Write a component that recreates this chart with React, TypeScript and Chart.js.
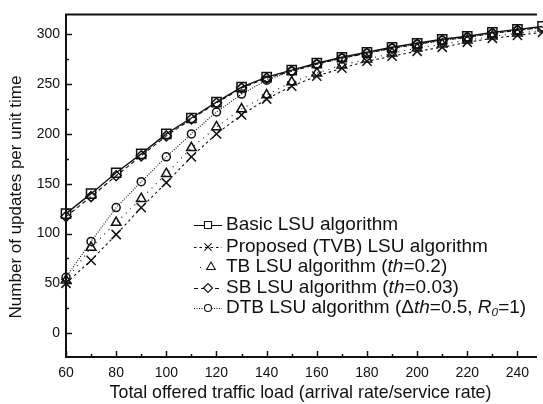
import React, { useEffect, useRef } from "react";
import { Chart, registerables } from "chart.js";
import { drawPoint } from "chart.js/helpers";

Chart.register(...registerables);

const loads = [60, 70, 80, 90, 100, 110, 120, 130, 140, 150, 160, 170, 180, 190, 200, 210, 220, 230, 240, 250];
const basicLSU = [120, 140, 161, 180, 200, 216, 232, 247, 257, 264, 271, 277, 282, 287, 291, 295, 298, 302, 305, 308];
const proposedTVB = [50, 73, 99, 126, 151, 177, 200, 219, 235, 248, 258, 266, 273, 278, 283, 287, 292, 296, 299, 302];
const tbLSU = [53, 86, 111, 135, 160, 186, 207, 225, 239, 252, 261, 269, 275, 281, 286, 290, 294, 298, 301, 304];
const sbLSU = [117, 137, 158, 178, 198, 215, 231, 246, 256, 263, 270, 276, 281, 286, 290, 294, 297, 301, 304, 307];
const dtbLSU = [56, 92, 126, 152, 177, 200, 222, 240, 254, 263, 270, 276, 281, 286, 290, 294, 297, 301, 304, 307];

const xMajorTicks = [60, 80, 100, 120, 140, 160, 180, 200, 220, 240];
const xMinorTicks = [70, 90, 110, 130, 150, 170, 190, 210, 230];
const yMajorTicks = [0, 50, 100, 150, 200, 250, 300];
const yMinorTicks = [25, 75, 125, 175, 225, 275];

const xTitle = "Total offered traffic load (arrival rate/service rate)";
const yTitle = "Number of updates per unit time";

type Run = { t: string; i?: boolean; sub?: boolean };
const legendBasic: Run[] = [{ t: "Basic LSU algorithm" }];
const legendTVB: Run[] = [{ t: "Proposed (TVB) LSU algorithm" }];
const legendTB: Run[] = [{ t: "TB LSU algorithm (" }, { t: "th", i: true }, { t: "=0.2)" }];
const legendSB: Run[] = [{ t: "SB LSU algorithm (" }, { t: "th", i: true }, { t: "=0.03)" }];
const legendDTB: Run[] = [
  { t: "DTB LSU algorithm (\u0394" },
  { t: "th", i: true },
  { t: "=0.5, " },
  { t: "R", i: true },
  { t: "0", i: true, sub: true },
  { t: "=1)" },
];

const INK = "#111";
const FONT = "'Liberation Sans', Arial, sans-serif";

const seriesStyles = [
  { label: "Basic", data: basicLSU, style: "rect", radius: 6.5, dash: [] as number[], legend: legendBasic, lr: 5 },
  { label: "TVB", data: proposedTVB, style: "crossRot", radius: 6.5, dash: [2.5, 3], legend: legendTVB, lr: 5 },
  { label: "TB", data: tbLSU, style: "triangle", radius: 5.5, dash: [1, 5], legend: legendTB, lr: 5 },
  { label: "SB", data: sbLSU, style: "rectRot", radius: 5, dash: [4, 3], legend: legendSB, lr: 4.5 },
  { label: "DTB", data: dtbLSU, style: "circle", radius: 4, dash: [1, 1.5], legend: legendDTB, lr: 3.5 },
];

const framePlugin = {
  id: "frame",
  afterDatasetsDraw(chart: any) {
    const { ctx, chartArea } = chart;
    const xs = chart.scales.x;
    const ys = chart.scales.y;
    const { left, right, top, bottom } = chartArea;
    ctx.save();
    ctx.strokeStyle = INK;
    ctx.lineWidth = 2;
    ctx.beginPath();
    ctx.moveTo(left, top);
    ctx.lineTo(right + 2, top);
    ctx.moveTo(left, top - 1);
    ctx.lineTo(left, bottom + 1);
    ctx.moveTo(left - 1, bottom);
    ctx.lineTo(right + 2, bottom);
    ctx.stroke();
    ctx.lineWidth = 1.5;
    ctx.beginPath();
    yMajorTicks.forEach((v) => {
      const p = Math.round(ys.getPixelForValue(v)) + 0.5;
      ctx.moveTo(left, p);
      ctx.lineTo(left + 6, p);
    });
    yMinorTicks.forEach((v) => {
      const p = Math.round(ys.getPixelForValue(v)) + 0.5;
      ctx.moveTo(left, p);
      ctx.lineTo(left + 3, p);
    });
    xMajorTicks.forEach((v) => {
      const p = Math.round(xs.getPixelForValue(v)) + 0.5;
      ctx.moveTo(p, bottom);
      ctx.lineTo(p, bottom - 6);
    });
    xMinorTicks.forEach((v) => {
      const p = Math.round(xs.getPixelForValue(v)) + 0.5;
      ctx.moveTo(p, bottom);
      ctx.lineTo(p, bottom - 3);
    });
    ctx.stroke();

    // y-axis title
    ctx.translate(16, 197);
    ctx.rotate(-Math.PI / 2);
    ctx.fillStyle = INK;
    ctx.font = `17px ${FONT}`;
    ctx.textAlign = "center";
    ctx.textBaseline = "middle";
    ctx.fillText(yTitle, 0, 0);
    ctx.restore();
  },
};

const legendPlugin = {
  id: "customLegend",
  afterDraw(chart: any) {
    const { ctx } = chart;
    const x0 = 194;
    const x1 = 222;
    const textX = 226;
    const rowY = [225, 247, 267, 288, 308];
    const size = 19;
    ctx.save();
    seriesStyles.forEach((s, idx) => {
      const y = rowY[idx];
      ctx.strokeStyle = INK;
      ctx.lineWidth = 1;
      ctx.setLineDash(s.dash);
      ctx.beginPath();
      if (s.style === "triangle") {
        ctx.moveTo(x0 + 6, y + 0.5);
        ctx.lineTo(x0 + 8, y + 0.5);
      } else {
        ctx.moveTo(x0, y + 0.5);
        ctx.lineTo(x1, y + 0.5);
      }
      ctx.stroke();
      ctx.setLineDash([]);
      ctx.fillStyle = "#fff";
      ctx.lineWidth = 1.1;
      drawPoint(ctx, { pointStyle: s.style, radius: s.lr, borderWidth: 1.1, rotation: 0 } as any, (x0 + x1) / 2 + (s.style === "triangle" ? 3 : 0), y);
      let tx = textX;
      ctx.fillStyle = INK;
      ctx.textBaseline = "middle";
      ctx.textAlign = "left";
      s.legend.forEach((r) => {
        const fs = r.sub ? size * 0.62 : size;
        ctx.font = `${r.i ? "italic " : ""}${fs}px ${FONT}`;
        ctx.fillText(r.t, tx, r.sub ? y + 5 : y);
        tx += ctx.measureText(r.t).width;
      });
    });
    ctx.restore();
  },
};

export default function App() {
  const ref = useRef<HTMLCanvasElement | null>(null);
  useEffect(() => {
    if (!ref.current) return;
    const chart = new Chart(ref.current, {
      type: "line",
      data: {
        labels: loads,
        datasets: seriesStyles.map((s) => ({
          label: s.label,
          data: loads.map((x, i) => ({ x, y: s.data[i] })),
          borderColor: INK,
          borderWidth: s.style === "rect" ? 1.4 : 1.1,
          borderDash: s.dash,
          backgroundColor: "rgba(0,0,0,0)",
          pointStyle: s.style as any,
          pointRadius: s.radius,
          pointBorderColor: INK,
          pointBackgroundColor: "rgba(0,0,0,0)",
          pointBorderWidth: 1.5,
          tension: 0,
          clip: false as any,
          fill: false,
        })),
      },
      options: {
        responsive: false,
        animation: false,
        devicePixelRatio: 1,
        layout: { padding: { top: 12, right: 0, left: 0, bottom: 0 } },
        plugins: {
          legend: { display: false },
          tooltip: { enabled: false },
        },
        scales: {
          x: {
            type: "linear",
            min: 60,
            max: 247,
            grid: { display: false, drawTicks: false },
            border: { display: false },
            afterBuildTicks: (scale: any) => {
              scale.ticks = xMajorTicks.map((v) => ({ value: v }));
            },
            afterFit: (scale: any) => {
              scale.height = 47;
            },
            ticks: {
              autoSkip: false,
              maxRotation: 0,
              padding: 8,
              color: INK,
              font: { family: FONT, size: 14 },
            },
            title: {
              display: true,
              text: xTitle,
              color: INK,
              font: { family: FONT, size: 17.8 },
              padding: { top: 0, bottom: 0 },
            },
          },
          y: {
            type: "linear",
            min: -24,
            max: 320,
            grid: { display: false, drawTicks: false },
            border: { display: false },
            afterBuildTicks: (scale: any) => {
              scale.ticks = yMajorTicks.map((v) => ({ value: v }));
            },
            afterFit: (scale: any) => {
              scale.width = 66;
            },
            ticks: {
              padding: 6,
              color: INK,
              font: { family: FONT, size: 14 },
            },
            title: { display: false },
          },
        },
      },
      plugins: [framePlugin, legendPlugin],
    });
    return () => chart.destroy();
  }, []);
  return (
    <div style={{ position: "fixed", left: 0, top: 0, width: 543, height: 404, background: "#fff" }}>
      <canvas ref={ref} width={543} height={404} style={{ display: "block" }} />
    </div>
  );
}
